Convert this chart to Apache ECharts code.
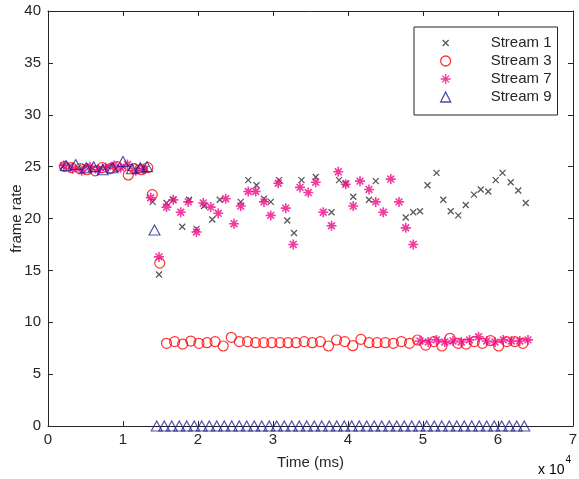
<!DOCTYPE html>
<html><head><meta charset="utf-8">
<script src="https://cdn.jsdelivr.net/npm/echarts@6/dist/echarts.min.js"></script>
<style>html,body{margin:0;padding:0;background:#fff}#c{width:579px;height:479px}</style>
</head><body><div id="c"></div>
<script>
const seriesNames = ['Stream 1', 'Stream 3', 'Stream 7', 'Stream 9'];
const xTickValues = [0, 10000, 20000, 30000, 40000, 50000, 60000, 70000];
const yTickValues = [0, 5, 10, 15, 20, 25, 30, 35, 40];

const stream1 = [
  [2000,25.0],[3000,25.1],[4000,24.9],[5000,25.0],[6000,24.8],[7000,24.9],[8000,25.0],[9000,24.8],[10000,25.0],[11000,24.9],[12000,25.0],[13000,24.8],
  [13960,21.6],[14800,14.6],[15800,21.5],[16700,21.8],[17900,19.2],[18800,21.8],[19800,19.0],[20800,21.2],[21900,19.9],[22900,21.8],
  [25700,21.6],[26700,23.7],[27800,23.2],[28800,21.9],[29700,21.6],[30800,23.7],[31900,19.8],[32800,18.6],[33800,23.7],[35700,24.0],
  [37800,20.6],[38800,23.7],[39700,23.4],[40700,22.1],[42800,21.8],[43700,23.6],[47700,20.1],[48700,20.6],[49600,20.7],[50600,23.2],
  [51800,24.4],[52700,21.8],[53700,20.7],[54700,20.3],[55700,21.3],[56800,22.3],[57700,22.8],[58700,22.6],[59700,23.7],[60600,24.4],
  [61700,23.5],[62700,22.7],[63700,21.5]
];
const stream3 = [
  [2200,25.0],[3100,24.9],[4300,24.8],[5200,24.7],[6300,24.6],[7200,24.9],[8300,24.8],[9200,25.0],[10700,24.2],[11500,24.8],[12500,24.7],[13300,24.9],
  [13900,22.3],[14900,15.7],
  [15800,7.97],[16880,8.13],[17960,7.9],[19040,8.19],[20120,7.97],[21200,8.03],[22280,8.13],[23360,7.71],[24440,8.55],[25520,8.13],
  [26600,8.13],[27680,8.03],[28760,8.03],[29840,8.03],[30920,8.03],[32000,8.03],[33080,8.03],[34160,8.13],[35240,8.03],[36320,8.13],
  [37400,7.71],[38480,8.29],[39560,8.13],[40640,7.74],[41720,8.35],[42800,8.03],[43880,8.03],[44960,8.03],[46040,7.97],[47120,8.13],
  [48200,7.97],[49280,8.29],[50360,7.8],[51440,8.13],[52520,7.71],[53600,8.45],[54680,7.97],[55760,7.9],[56840,8.13],[57920,7.97],
  [59000,8.23],[60080,7.71],[61160,8.13],[62240,8.13],[63320,7.97]
];
const stream7 = [
  [2100,25.1],[3300,24.8],[4500,24.6],[5600,25.0],[6700,24.7],[7700,24.9],[8800,25.1],[9700,24.9],[10600,25.2],[11700,24.6],[12700,24.8],
  [13700,22.0],[14800,16.3],[15800,21.1],[16700,21.8],[17700,20.6],[18700,21.6],[19800,18.7],[20700,21.5],[21700,21.1],[22700,20.5],
  [23700,21.9],[24800,19.5],[25700,21.2],[26700,22.6],[27700,22.6],[28800,21.6],[29700,20.3],[30700,23.4],[31700,21.0],[32700,17.5],
  [33600,23.0],[34700,22.5],[35700,23.5],[36700,20.6],[37800,19.3],[38700,24.5],[39700,23.3],[40700,21.2],[41600,23.6],[42800,22.8],
  [43700,21.6],[44700,20.6],[45700,23.8],[46800,21.6],[47700,19.1],[48700,17.5],
  [49600,8.2],[50700,8.1],[51800,8.3],[52900,8.1],[54000,8.2],[55100,8.1],[56200,8.3],[57400,8.6],[58500,8.2],[59600,8.1],
  [60700,8.3],[61800,8.2],[62900,8.2],[64000,8.3]
];
const stream9 = [
  [2400,25.1],[3700,25.2],[5100,24.9],[6100,25.0],[7300,24.7],[8600,24.9],[10000,25.5],[11200,24.8],[12300,24.9],[13200,25.0],
  [14200,18.9],
  [14500,0],[15500,0],[16500,0],[17500,0],[18500,0],[19500,0],[20500,0],[21500,0],[22500,0],[23500,0],
  [24500,0],[25500,0],[26500,0],[27500,0],[28500,0],[29500,0],[30500,0],[31500,0],[32500,0],[33500,0],
  [34500,0],[35500,0],[36500,0],[37500,0],[38500,0],[39500,0],[40500,0],[41500,0],[42500,0],[43500,0],
  [44500,0],[45500,0],[46500,0],[47500,0],[48500,0],[49500,0],[50500,0],[51500,0],[52500,0],[53500,0],
  [54500,0],[55500,0],[56500,0],[57500,0],[58500,0],[59500,0],[60500,0],[61500,0],[62500,0],[63500,0]
];

const FONT = '"Liberation Sans", Arial, sans-serif';
const TXT = '#262626';
const X_PATH = 'path://M0,0L10,10M10,0L0,10';
const STAR_PATH = 'path://M5,0L5,10M0,5L10,5M1.6,1.6L8.4,8.4M8.4,1.6L1.6,8.4';

const chart = echarts.init(document.getElementById('c'), null, {renderer: 'canvas'});
const axisCommon = {
  axisLine: {show: true, onZero: false, lineStyle: {color: TXT, width: 1}},
  axisTick: {show: true, inside: true, length: 5, lineStyle: {color: TXT}},
  splitLine: {show: false}
};
chart.setOption({
  animation: false,
  backgroundColor: '#fff',
  grid: {left: 48, right: 6, top: 11, bottom: 53, containLabel: false, outerBoundsMode: 'none'},
  xAxis: [
    Object.assign({type: 'value', position: 'bottom', min: xTickValues[0], max: xTickValues[xTickValues.length-1], interval: 10000,
      name: 'Time (ms)', nameLocation: 'middle', nameGap: 29, nameMoveOverlap: false,
      nameTextStyle: {fontFamily: FONT, fontSize: 15, color: TXT},
      axisLabel: {fontFamily: FONT, fontSize: 15, color: TXT, margin: 6, formatter: v => String(v / 10000)}}, axisCommon),
    Object.assign({type: 'value', position: 'top', min: xTickValues[0], max: xTickValues[xTickValues.length-1], interval: 10000,
      axisLabel: {show: false}}, axisCommon)
  ],
  yAxis: [
    Object.assign({type: 'value', position: 'left', min: yTickValues[0], max: yTickValues[yTickValues.length-1], interval: 5,
      name: 'frame rate', nameLocation: 'middle', nameGap: 24, nameMoveOverlap: false,
      nameTextStyle: {fontFamily: FONT, fontSize: 15, color: TXT},
      axisLabel: {fontFamily: FONT, fontSize: 15, color: TXT, margin: 7}}, axisCommon),
    Object.assign({type: 'value', position: 'right', min: yTickValues[0], max: yTickValues[yTickValues.length-1], interval: 5,
      axisLabel: {show: false}}, axisCommon)
  ],
  legend: {
    orient: 'vertical', left: 414, top: 27,
    padding: [7, 6, 9, 26], itemGap: 0, itemWidth: 10, itemHeight: 10,
    borderColor: TXT, borderWidth: 1, backgroundColor: '#fff',
    textStyle: {fontFamily: FONT, fontSize: 15, color: TXT, lineHeight: 18, padding: [0, 0, 0, 35]},
    itemStyle: {borderWidth: 1.3},
    data: [
      {name: seriesNames[0], icon: 'path://M-2,-2M0,0L6,6M6,0L0,6M8,8'},
      {name: seriesNames[1], icon: 'circle'},
      {name: seriesNames[2], icon: STAR_PATH},
      {name: seriesNames[3], icon: 'triangle'}
    ]
  },
  graphic: [{
    type: 'text', left: 538, top: 455,
    style: {text: '{a|x 10}{b|4}', rich: {
      a: {fontFamily: FONT, fontSize: 14, color: TXT, padding: [8, 0, 0, 0]},
      b: {fontFamily: FONT, fontSize: 10, color: TXT, verticalAlign: 'top', padding: [0, 0, 0, 1]}
    }}
  }],
  series: [
    {name: seriesNames[0], type: 'scatter', data: stream1, symbol: X_PATH, symbolSize: 6,
      itemStyle: {color: 'rgba(0,0,0,0)', borderColor: '#2d2d2d', borderWidth: 1.3}},
    {name: seriesNames[1], type: 'scatter', data: stream3, symbol: 'circle', symbolSize: 10,
      itemStyle: {color: 'rgba(0,0,0,0)', borderColor: '#ff0000', borderWidth: 1.2}},
    {name: seriesNames[2], type: 'scatter', data: stream7, symbol: STAR_PATH, symbolSize: 10,
      itemStyle: {color: 'rgba(0,0,0,0)', borderColor: '#ee0a88', borderWidth: 1.6}},
    {name: seriesNames[3], type: 'scatter', data: stream9, symbol: 'triangle', symbolSize: [11, 10],
      itemStyle: {color: 'rgba(0,0,0,0)', borderColor: '#20208c', borderWidth: 1.1}}
  ]
});
</script>
</body></html>
